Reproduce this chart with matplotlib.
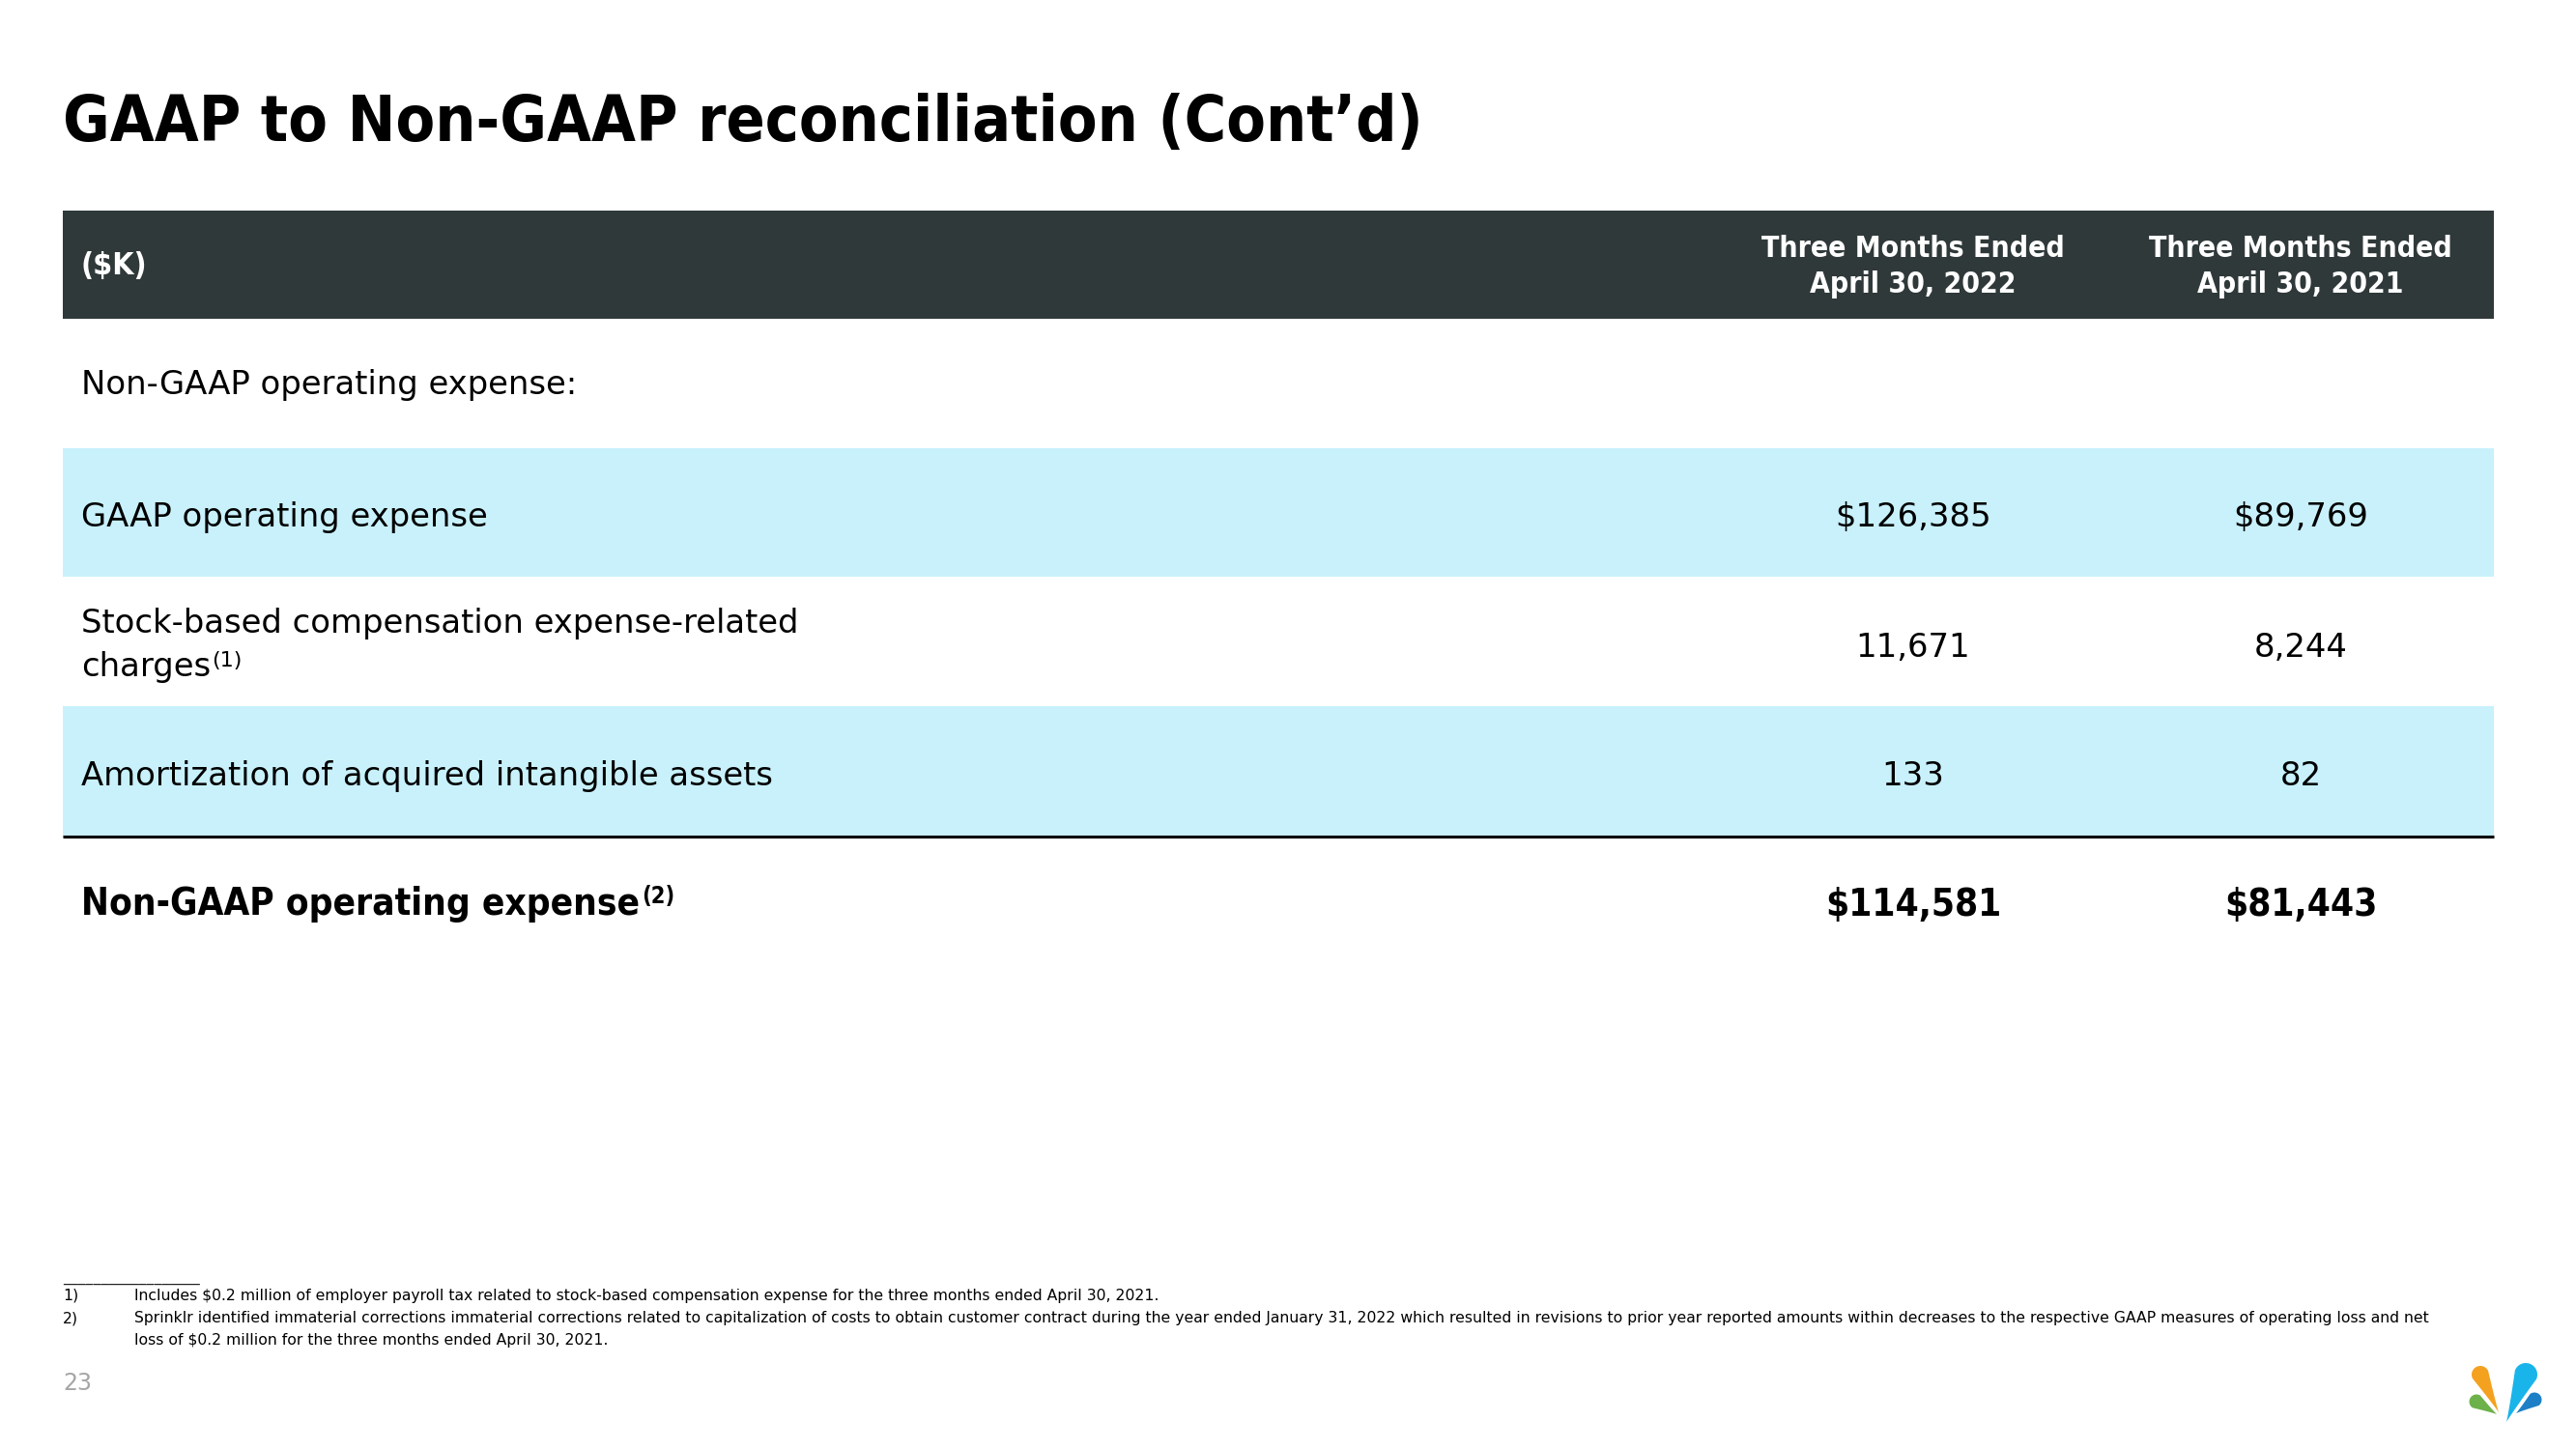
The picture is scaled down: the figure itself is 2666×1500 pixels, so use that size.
import matplotlib
matplotlib.use("Agg")
import matplotlib.pyplot as plt
from matplotlib.patches import Rectangle, Polygon
import numpy as np

# ---------------- data ----------------
title = "GAAP to Non-GAAP reconciliation (Cont\u2019d)"
unit_label = "($K)"
col_headers = [["Three Months Ended", "April 30, 2022"],
               ["Three Months Ended", "April 30, 2021"]]
section_label = "Non-GAAP operating expense:"
row_labels = [["GAAP operating expense"],
              ["Stock-based compensation expense-related", "charges"],
              ["Amortization of acquired intangible assets"]]
row_notes = ["", "(1)", ""]
values_2022 = [126385, 11671, 133]
values_2021 = [89769, 8244, 82]
dollar_rows = [True, False, False]
total_label = "Non-GAAP operating expense"
total_note = "(2)"
total_2022 = 114581
total_2021 = 81443
footnotes = [
    ("1)", ["Includes $0.2 million of employer payroll tax related to stock-based compensation expense for the three months ended April 30, 2021."]),
    ("2)", ["Sprinklr identified immaterial corrections immaterial corrections related to capitalization of costs to obtain customer contract during the year ended January 31, 2022 which resulted in revisions to prior year reported amounts within decreases to the respective GAAP measures of operating loss and net",
            "loss of $0.2 million for the three months ended April 30, 2021."]),
]
page_number = "23"

# ---------------- style ----------------
W, H = 2666, 1500
DARK = "#30393a"
BAND = "#c8f1fc"
FONT = "DejaVu Sans"
BODY = 24.4
FOOT = 11.28

fig = plt.figure(figsize=(W / 100, H / 100), dpi=100)
ax = fig.add_axes([0, 0, 1, 1])
ax.set_xlim(0, W)
ax.set_ylim(H, 0)
ax.axis("off")

L, R = 65, 2581
col_x = [1980, 2381]
label_x = 84

def fmt(v, dollar):
    s = f"{v:,}"
    return "$" + s if dollar else s

# title
ax.text(L, 146, title, fontsize=47.5, fontweight="bold", family=FONT,
        fontstretch="condensed", va="baseline", ha="left", color="black")

# header band
ax.add_patch(Rectangle((L, 218), R - L, 112, facecolor=DARK, edgecolor="none"))
ax.text(label_x, 284, unit_label, fontsize=23, fontweight="bold", family=FONT,
        fontstretch="condensed", color="white", va="baseline", ha="left")
for cx, lines in zip(col_x, col_headers):
    for i, ln in enumerate(lines):
        ax.text(cx, 266 + 37 * i, ln, fontsize=21.6, fontweight="bold", family=FONT,
                fontstretch="condensed", color="white", va="baseline", ha="center")

# section label
ax.text(label_x, 408, section_label, fontsize=BODY, family=FONT, va="baseline", ha="left")

# body rows
row_tops = [464, 597, 731]
row_h = [133, 134, 135]
row_base = [545, 680, 813]
band_rows = [True, False, True]
fig.canvas.draw()
renderer = fig.canvas.get_renderer()
inv = ax.transData.inverted()

for i in range(len(row_labels)):
    if band_rows[i]:
        ax.add_patch(Rectangle((L, row_tops[i]), R - L, row_h[i], facecolor=BAND, edgecolor="none"))
    lines = row_labels[i]
    if len(lines) == 1:
        t = ax.text(label_x, row_base[i], lines[0], fontsize=BODY, family=FONT,
                    va="baseline", ha="left")
    else:
        for j, ln in enumerate(lines):
            t = ax.text(label_x, 655 + 45 * j, ln, fontsize=BODY, family=FONT,
                        va="baseline", ha="left")
    if row_notes[i]:
        fig.canvas.draw()
        bb = t.get_window_extent(renderer)
        x_end = inv.transform((bb.x1, bb.y0))[0]
        ax.text(x_end + 1, 690, row_notes[i], fontsize=16, family=FONT,
                va="baseline", ha="left")
    ax.text(col_x[0], row_base[i], fmt(values_2022[i], dollar_rows[i]), fontsize=BODY,
            family=FONT, va="baseline", ha="center")
    ax.text(col_x[1], row_base[i], fmt(values_2021[i], dollar_rows[i]), fontsize=BODY,
            family=FONT, va="baseline", ha="center")

# separator line
ax.plot([L, R], [866, 866], color="black", lw=2.2, solid_capstyle="butt")

# total row
tt = ax.text(label_x, 947, total_label, fontsize=27.8, fontweight="bold", family=FONT,
             fontstretch="condensed", va="baseline", ha="left")
fig.canvas.draw()
bb = tt.get_window_extent(renderer)
x_end = inv.transform((bb.x1, bb.y0))[0]
ax.text(x_end + 2, 935, total_note, fontsize=17, fontweight="bold", family=FONT,
        fontstretch="condensed", va="baseline", ha="left")
ax.text(col_x[0], 948, fmt(total_2022, True), fontsize=27.8, fontweight="bold", family=FONT,
        fontstretch="condensed", va="baseline", ha="center")
ax.text(col_x[1], 948, fmt(total_2021, True), fontsize=27.8, fontweight="bold", family=FONT,
        fontstretch="condensed", va="baseline", ha="center")

# footnotes
ax.text(L, 1326, "_" * 18, fontsize=FOOT, family=FONT, va="baseline", ha="left", color="#222222")
fy = 1346
for num, lines in footnotes:
    ax.text(L, fy, num, fontsize=FOOT, family=FONT, va="baseline", ha="left")
    for ln in lines:
        ax.text(139, fy, ln, fontsize=FOOT, family=FONT, va="baseline", ha="left")
        fy += 23

ax.text(L, 1439, page_number, fontsize=17, family=FONT, color="#a6a6a6",
        va="baseline", ha="left")

# logo (decorative teardrops)
def drop(head, tail, r, color):
    hx, hy = head
    tx, ty = tail
    ang = np.arctan2(ty - hy, tx - hx)
    th = np.linspace(ang + np.pi / 2, ang + 3 * np.pi / 2, 30)
    arc = np.c_[hx + r * np.cos(th), hy + r * np.sin(th)]
    s = np.linspace(0, 1, 20)
    nx, ny = -np.sin(ang), np.cos(ang)
    width = r * (1 - s) ** 1.1
    cx = hx + (tx - hx) * s
    cy = hy + (ty - hy) * s
    side1 = np.c_[cx - nx * width, cy - ny * width]
    side2 = np.c_[cx + nx * width, cy + ny * width][::-1]
    pts = np.vstack([side2, arc, side1])
    ax.add_patch(Polygon(pts, closed=True, facecolor=color, edgecolor="none"))

drop((2567, 1423), (2586, 1462), 9, "#f4a11f")
drop((2563, 1451), (2584, 1464), 7.5, "#6db14a")
drop((2614, 1423), (2594, 1472), 12, "#19b4e9")
drop((2623, 1449), (2604, 1463), 7.5, "#1d80c6")

fig.savefig("out.png", dpi=100, facecolor="white")
